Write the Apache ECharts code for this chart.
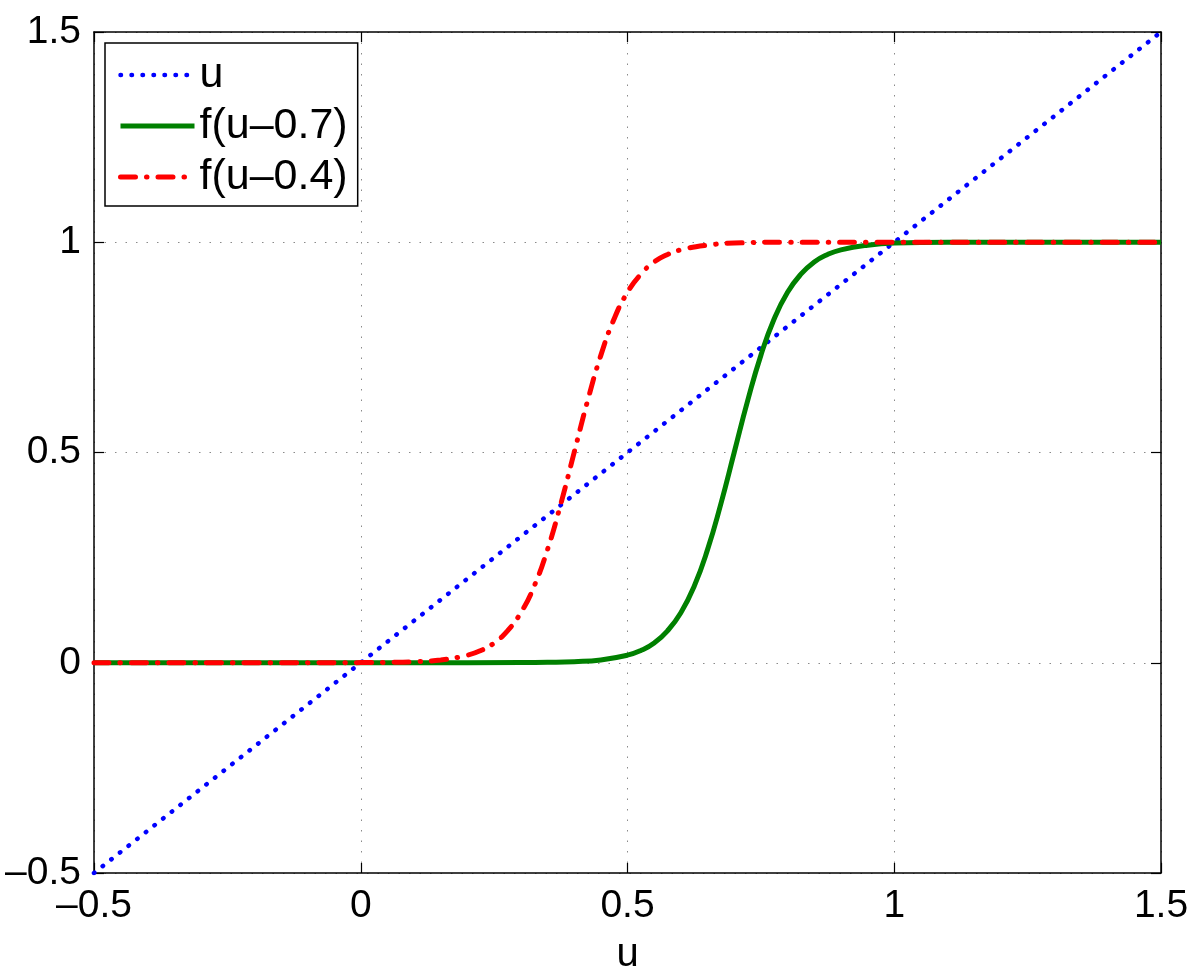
<!DOCTYPE html>
<html>
<head>
<meta charset="utf-8">
<script src="https://cdn.jsdelivr.net/npm/echarts@6/dist/echarts.min.js"></script>
<style>
    html, body { margin: 0; padding: 0; background: #fff; }
    #chart { width: 1200px; height: 980px; }
</style>
</head>
<body>
<div id="chart"></div>
<script>
// u itself (straight line)
var uLineX = [-0.5, 1.5]
var uLineY = [-0.5, 1.5]

// f(u-0.7)
var greenU = [-0.5, 0.1, 0.3, 0.35, 0.4, 0.45, 0.5, 0.525, 0.55, 0.575, 0.6, 0.625, 0.65, 0.675, 0.7,
    0.725, 0.75, 0.775, 0.8, 0.825, 0.85, 0.875, 0.9, 0.95, 1.0, 1.1, 1.3, 1.5]
var greenF = [0, 0, 0.0003, 0.0009, 0.0025, 0.0067, 0.018, 0.029, 0.047, 0.076, 0.119, 0.182, 0.269, 0.378, 0.5,
    0.622, 0.731, 0.818, 0.881, 0.924, 0.953, 0.971, 0.982, 0.993, 0.998, 1, 1, 1]

// f(u-0.4)
var redU = [-0.5, -0.2, 0, 0.05, 0.1, 0.15, 0.2, 0.225, 0.25, 0.275, 0.3, 0.325, 0.35, 0.375, 0.4,
    0.425, 0.45, 0.475, 0.5, 0.525, 0.55, 0.575, 0.6, 0.65, 0.7, 0.8, 1.0, 1.5]
var redF = [0, 0, 0.0003, 0.0009, 0.0025, 0.0067, 0.018, 0.029, 0.047, 0.076, 0.119, 0.182, 0.269, 0.378, 0.5,
    0.622, 0.731, 0.818, 0.881, 0.924, 0.953, 0.971, 0.982, 0.993, 0.998, 1, 1, 1]

var legendNames = ['u', 'f(u–0.7)', 'f(u–0.4)']

function pairs(xs, ys) {
    return xs.map(function (x, i) { return [x, ys[i]] })
}

var font = "'Liberation Sans', Arial, Helvetica, sans-serif"
function tickFmt(v) {
    return String(v).replace('-', '–')
}

var blueLine = { color: '#0000ff', width: 4.5, type: [0.5, 10.5], cap: 'round' }
var greenLine = { color: '#008000', width: 5 }
var redLine = { color: '#ff0000', width: 5, type: [15, 11, 0.5, 11], cap: 'round' }

var gridLine = {
    show: true,
    lineStyle: { color: '#8a8a8a', width: 1, type: [1.5, 9] }
}
var boxLine = { show: true, onZero: false, lineStyle: { color: '#000', width: 1.5 } }
var tick = { show: true, inside: true, length: 10, lineStyle: { color: '#000', width: 1.2 } }

var myChart = echarts.init(document.getElementById('chart'))
var option = {
    backgroundColor: '#fff',
    animation: false,
    grid: { left: 94, right: 39, top: 32, bottom: 107 },
    legend: {
        orient: 'vertical',
        left: 105,
        top: 43,
        data: [
            { name: legendNames[0], lineStyle: blueLine },
            { name: legendNames[1], lineStyle: greenLine },
            { name: legendNames[2], lineStyle: redLine }
        ],
        itemWidth: 74,
        itemHeight: 14,
        itemGap: 7,
        itemStyle: { opacity: 0 },
        padding: [10, 10, 7, 13],
        borderColor: '#000',
        borderWidth: 1.5,
        backgroundColor: '#fff',
        textStyle: { fontFamily: font, fontSize: 43, lineHeight: 44, color: '#000' }
    },
    xAxis: [{
        type: 'value',
        min: -0.5,
        max: 1.5,
        interval: 0.5,
        name: 'u',
        nameLocation: 'middle',
        nameGap: 62,
        nameTextStyle: { fontFamily: font, fontSize: 40, color: '#000' },
        axisLine: boxLine,
        axisTick: tick,
        axisLabel: { fontFamily: font, fontSize: 39, color: '#000', margin: 14, formatter: tickFmt },
        splitLine: gridLine
    }, {
        type: 'value',
        position: 'top',
        min: -0.5,
        max: 1.5,
        interval: 0.5,
        axisLine: boxLine,
        axisTick: tick,
        axisLabel: { show: false },
        splitLine: { show: false }
    }],
    yAxis: [{
        type: 'value',
        min: -0.5,
        max: 1.5,
        interval: 0.5,
        axisLine: boxLine,
        axisTick: tick,
        axisLabel: { fontFamily: font, fontSize: 39, color: '#000', margin: 13, formatter: tickFmt },
        splitLine: gridLine
    }, {
        type: 'value',
        position: 'right',
        min: -0.5,
        max: 1.5,
        interval: 0.5,
        axisLine: boxLine,
        axisTick: tick,
        axisLabel: { show: false },
        splitLine: { show: false }
    }],
    series: [
        {
            name: legendNames[0],
            type: 'line',
            showSymbol: false,
            symbol: 'none',
            data: pairs(uLineX, uLineY),
            lineStyle: blueLine,
            itemStyle: { color: '#0000ff' }
        },
        {
            name: legendNames[1],
            type: 'line',
            showSymbol: false,
            symbol: 'none',
            smooth: 0.5,
            data: pairs(greenU, greenF),
            lineStyle: greenLine,
            itemStyle: { color: '#008000' }
        },
        {
            name: legendNames[2],
            type: 'line',
            showSymbol: false,
            symbol: 'none',
            smooth: 0.5,
            data: pairs(redU, redF),
            lineStyle: redLine,
            itemStyle: { color: '#ff0000' }
        }
    ]
}
myChart.setOption(option)

window.addEventListener('resize', function () {
    myChart.resize()
})
</script>
</body>
</html>
